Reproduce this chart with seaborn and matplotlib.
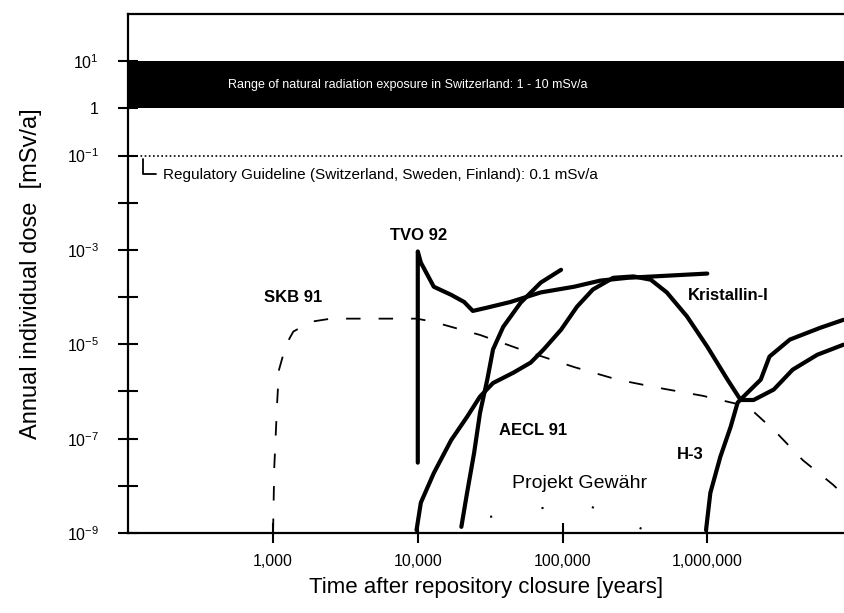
import seaborn as sns
import matplotlib.pyplot as plt
from matplotlib.ticker import NullFormatter
import warnings
warnings.filterwarnings("ignore")

# curves (years, mSv/a)
tvo_years = [1e4, 1e4, 1.05e4, 1.29e4, 1.70e4, 2.09e4, 2.40e4, 3.02e4, 4.37e4,
             7.08e4, 1.20e5, 1.82e5, 2.82e5, 4.27e5, 1.0e6]
tvo_dose = [3.1e-8, 9.3e-4, 5.4e-4, 1.66e-4, 1.12e-4, 7.9e-5, 5.1e-5, 6.0e-5, 7.9e-5,
            1.26e-4, 1.66e-4, 2.24e-4, 2.57e-4, 2.75e-4, 3.16e-4]

kristallin_years = [9.8e3, 1.05e4, 1.29e4, 1.70e4, 2.19e4, 2.69e4, 3.31e4, 4.57e4, 6.03e4,
                    7.41e4, 9.77e4, 1.26e5, 1.62e5, 2.24e5, 3.09e5, 4.07e5, 5.25e5, 7.24e5,
                    1.0e6, 1.38e6, 1.70e6, 2.09e6, 2.88e6, 3.89e6, 5.75e6, 8.71e6]
kristallin_dose = [1.15e-9, 4.4e-9, 1.86e-8, 9.3e-8, 2.9e-7, 7.8e-7, 1.51e-6, 2.5e-6, 4.1e-6,
                   7.8e-6, 2.04e-5, 6.3e-5, 1.45e-4, 2.57e-4, 2.75e-4, 2.34e-4, 1.26e-4, 3.9e-5,
                   8.9e-6, 1.78e-6, 6.6e-7, 6.6e-7, 1.10e-6, 2.9e-6, 6.0e-6, 9.8e-6]

h3_years = [9.8e5, 1.05e6, 1.23e6, 1.45e6, 1.62e6, 1.78e6, 2.34e6, 2.69e6, 3.72e6, 6.03e6, 8.71e6]
h3_dose = [1.15e-9, 7.1e-9, 4.1e-8, 1.78e-7, 5.8e-7, 7.8e-7, 1.78e-6, 5.5e-6, 1.26e-5, 2.24e-5, 3.3e-5]

aecl_years = [2.0e4, 2.19e4, 2.45e4, 2.69e4, 3.02e4, 3.31e4, 3.89e4, 5.13e4, 7.08e4, 9.77e4]
aecl_dose = [1.35e-9, 7.1e-9, 5.0e-8, 3.5e-7, 1.78e-6, 7.8e-6, 2.34e-5, 7.6e-5, 2.04e-4, 3.8e-4]

skb_years = [1.0e3, 1.02e3, 1.07e3, 1.10e3, 1.23e3, 1.38e3, 1.82e3, 2.51e3, 9.8e3, 1.29e4, 1.51e4,
             2.69e4, 5.13e4, 1.20e5, 2.40e5, 4.57e5, 9.3e5, 1.91e6, 3.02e6, 4.57e6, 7.41e6, 8.71e6]
skb_dose = [1.0e-9, 2.5e-8, 6.6e-7, 2.9e-6, 9.8e-6, 1.86e-5, 3.0e-5, 3.5e-5, 3.5e-5, 3.0e-5, 2.6e-5,
            1.58e-5, 7.8e-6, 3.3e-6, 1.78e-6, 1.20e-6, 8.1e-7, 4.8e-7, 1.32e-7, 3.5e-8, 1.05e-8, 6.5e-9]

gewaehr_years = [3.16e4, 1.32e5, 4.1e5]
gewaehr_dose = [2.2e-9, 4.6e-9, 1.0e-9]

x_ticks = [1e3, 1e4, 1e5, 1e6]
x_labels = ["1,000", "10,000", "100,000", "1,000,000"]
y_ticks = [1e1, 1, 1e-1, 1e-3, 1e-5, 1e-7, 1e-9]
y_labels = ["10$^{1}$", "1", "10$^{-1}$", "10$^{-3}$", "10$^{-5}$", "10$^{-7}$", "10$^{-9}$"]
y_minor = [1e-2, 1e-4, 1e-6, 1e-8]

natural_low, natural_high = 1, 10
guideline = 0.1

sns.set_style("ticks")
plt.rcParams['font.family'] = ['Liberation Sans', 'DejaVu Sans']
plt.rcParams['mathtext.default'] = 'regular'
for key in ['text.color', 'axes.labelcolor', 'xtick.color', 'ytick.color']:
    plt.rcParams[key] = 'black'

fig = plt.figure(figsize=(8.44, 6.13), dpi=100)
ax = fig.add_axes([0.152, 0.1305, 0.848, 0.8465])
ax.set_xscale('log')
ax.set_yscale('log')

# natural background band and guideline
ax.axhspan(natural_low, natural_high, color='black', lw=0)
ax.text(8500, 3.1, "Range of natural radiation exposure in Switzerland: 1 - 10 mSv/a",
        color='white', fontsize=9, ha='center', va='center')
ax.axhline(guideline, color='black', ls=(0, (1, 1.5)), lw=1.2)
ax.plot([126, 126, 155], [0.085, 0.04, 0.04], color='black', lw=1.3)
ax.text(175, 0.038, "Regulatory Guideline (Switzerland, Sweden, Finland): 0.1 mSv/a",
        fontsize=11, ha='left', va='center')

# curves
sns.lineplot(x=skb_years, y=skb_dose, ax=ax, sort=False, estimator=None,
             color='black', lw=1.3, linestyle=(0, (8, 10)))
sns.lineplot(x=tvo_years, y=tvo_dose, ax=ax, sort=False, estimator=None, color='black', lw=3)
sns.lineplot(x=kristallin_years, y=kristallin_dose, ax=ax, sort=False, estimator=None,
             color='black', lw=3)
sns.lineplot(x=h3_years, y=h3_dose, ax=ax, sort=False, estimator=None, color='black', lw=3)
sns.lineplot(x=aecl_years, y=aecl_dose, ax=ax, sort=False, estimator=None, color='black', lw=3)
sns.lineplot(x=gewaehr_years, y=gewaehr_dose, ax=ax, sort=False, estimator=None,
             color='black', lw=1.5, linestyle=(0, (1, 24)))

# curve labels
ax.text(1.02e4, 2.0e-3, "TVO 92", fontsize=12, fontweight='bold', ha='center', va='center')
ax.text(1.38e3, 9.8e-5, "SKB 91", fontsize=12, fontweight='bold', ha='center', va='center')
ax.text(1.4e6, 1.07e-4, "Kristallin-I", fontsize=12, fontweight='bold', ha='center', va='center')
ax.text(6.3e4, 1.48e-7, "AECL 91", fontsize=12, fontweight='bold', ha='center', va='center')
ax.text(7.6e5, 4.6e-8, "H-3", fontsize=12, fontweight='bold', ha='center', va='center')
ax.text(1.32e5, 1.1e-8, "Projekt Gewähr", fontsize=14, ha='center', va='center')

ax.set_xlim(100, 8.8e6)
ax.set_ylim(1e-9, 1e2)
ax.set_xticks(x_ticks)
ax.set_xticklabels(x_labels)
ax.set_xticks([], minor=True)
ax.set_yticks(y_ticks)
ax.set_yticklabels(y_labels)
ax.set_yticks(y_minor, minor=True)
ax.yaxis.set_minor_formatter(NullFormatter())
ax.tick_params(axis='both', which='both', direction='inout', width=1.5, labelsize=11.5, color='black')
ax.tick_params(axis='both', which='major', length=14)
ax.tick_params(axis='y', which='minor', length=14)
ax.tick_params(axis='y', pad=14)
ax.tick_params(axis='x', pad=8)

for side in ['left', 'bottom', 'top']:
    ax.spines[side].set_linewidth(1.6)
    ax.spines[side].set_color('black')
ax.spines['right'].set_visible(False)

ax.set_xlabel("Time after repository closure [years]", fontsize=16, labelpad=6)
ax.set_ylabel("Annual individual dose  [mSv/a]", fontsize=17, labelpad=18)

fig.savefig("out.png", dpi=100)
